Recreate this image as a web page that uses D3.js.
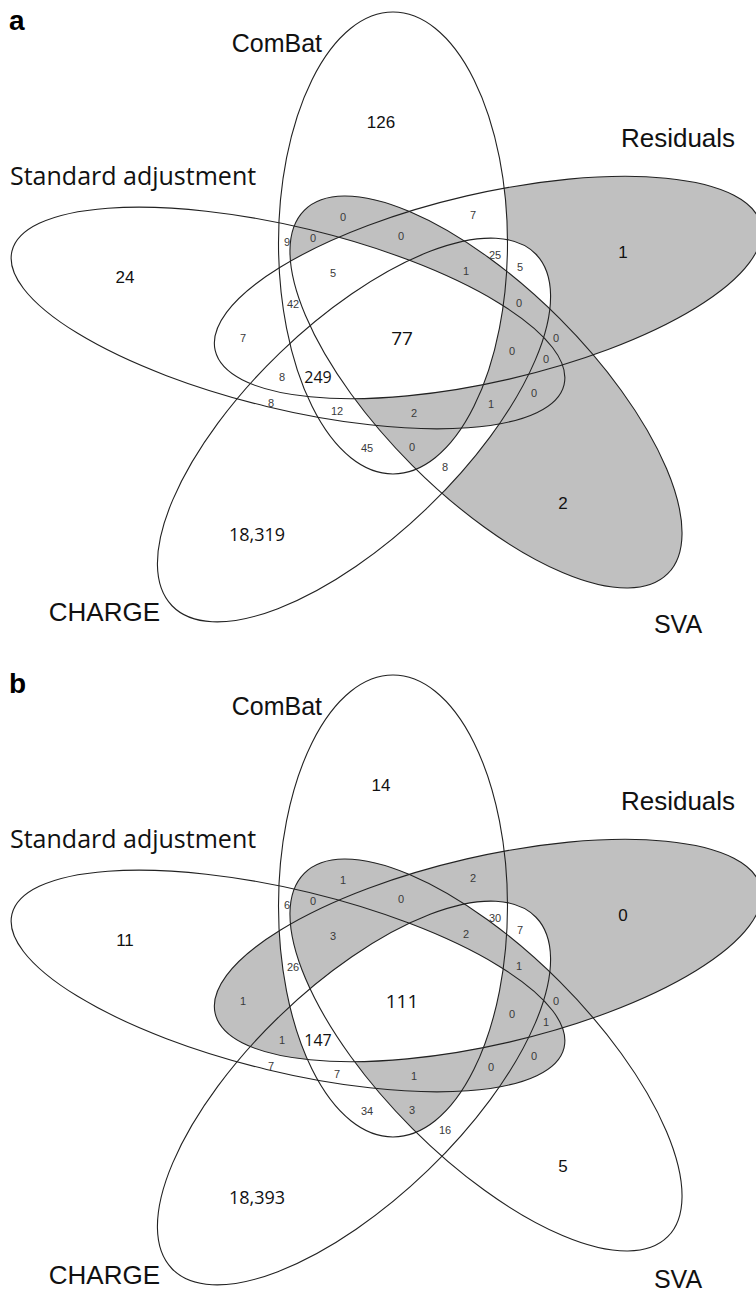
<!DOCTYPE html>
<html><head><meta charset="utf-8">
<script src="https://cdn.jsdelivr.net/npm/d3@7"></script>
<style>body{margin:0;background:#fff}</style>
</head><body>
<script>
// ---------------- DATA ----------------
const setKeys  = ["S", "C", "R", "V", "H"];
const setNames = ["Standard adjustment", "ComBat", "Residuals", "SVA", "CHARGE"];
const panelLetters = ["a", "b"];
// region = combination of sets (S=Standard adjustment, C=ComBat, R=Residuals, V=SVA, H=CHARGE)
const regionKeys = ["S","C","R","V","H","SCRVH","SCRH","SC","SCV","CV","CRV","CR","CRH","RH","SCRV",
                    "CRVH","SCR","SR","RVH","RV","SRVH","SRV","SV","SVH","SCVH","SRH","SH","SCH","CH","CVH","VH"];
const countsA = [24,126,1,2,18319,77,249,9,0,0,0,7,25,5,5,1,42,7,0,0,0,0,0,1,2,8,8,12,45,0,8];
const countsB = [11,14,0,5,18393,111,147,6,0,1,0,2,30,7,3,2,26,1,1,0,0,1,0,0,1,1,7,7,34,3,16];
const shadeBelow = 5;   // regions with fewer genes are shaded grey

// ---------------- LAYOUT ----------------
const W = 756, H = 1298, panelDY = 663;
const shapes = {
  S: {cx: 288, cy: 318,   a: 284, b: 91,    rot: 13.6},
  C: {cx: 393, cy: 243,   a: 231, b: 114.5, rot: 90},
  R: {cx: 488, cy: 287.5, a: 280, b: 94,    rot: -13},
  V: {cx: 486, cy: 392,   a: 257, b: 104,   rot: 45},
  H: {cx: 354, cy: 430,   a: 253, b: 107,   rot: -44}
};
const setLabelPos = {
  S: {x: 10,  y: 185, anchor: "start",  font: "'Open Sans', sans-serif", size: 25},
  C: {x: 322, y: 52,  anchor: "end",    font: "'Liberation Sans', Arial, sans-serif", size: 25},
  R: {x: 678, y: 147, anchor: "middle", font: "'Liberation Sans', Arial, sans-serif", size: 26},
  V: {x: 678, y: 633, anchor: "middle", font: "'Liberation Sans', Arial, sans-serif", size: 25},
  H: {x: 160, y: 621, anchor: "end",    font: "'Liberation Sans', Arial, sans-serif", size: 26}
};
const setLabelShiftB = {V: -8};   // panel b: SVA name sits a little higher
const regionLabelPos = {
  S:[125,277], C:[381,122], R:[623,252], V:[563,503], H:[257,535], SCRVH:[402,338], SCRH:[318,377],
  SC:[287,242], SCV:[313,238], CV:[343,217], CRV:[401,236], CR:[473,215], CRH:[495,255], RH:[520,267],
  SCRV:[333,273], CRVH:[466,271], SCR:[293,304], SR:[243,338], RVH:[519,303], RV:[556,338],
  SRVH:[512,351], SRV:[546,359], SV:[534,393], SVH:[491,404], SCVH:[414,413], SRH:[282,377],
  SH:[271,403], SCH:[337,411], CH:[367,448], CVH:[412,447], VH:[445,467]
};
function labelStyle(k) {
  if (k === "SCRVH") return {font: "'Open Sans', sans-serif", size: 19, fill: "#111"};
  if (k === "SCRH")  return {font: "'Open Sans', sans-serif", size: 16, fill: "#111"};
  if (k === "H")     return {font: "'Open Sans', sans-serif", size: 18, fill: "#111"};
  if (k.length === 1) return {font: "'Liberation Sans', Arial, sans-serif", size: 17, fill: "#111"};
  return {font: "'Liberation Sans', Arial, sans-serif", size: 11, fill: "#3a3a3a"};
}

// ---------------- DRAW ----------------
const shade = d3.scaleThreshold().domain([shadeBelow]).range(["#c0c0c0", "none"]);
const fmt = d3.format(",");

const svg = d3.select("body").append("svg")
  .attr("width", W).attr("height", H).style("display", "block");
svg.append("rect").attr("width", W).attr("height", H).attr("fill", "#fff");
const defs = svg.append("defs");

function ellipse(sel, k) {
  const s = shapes[k];
  return sel.attr("cx", s.cx).attr("cy", s.cy).attr("rx", s.a).attr("ry", s.b)
    .attr("transform", `rotate(${s.rot} ${s.cx} ${s.cy})`);
}

setKeys.forEach(k => {
  ellipse(defs.append("clipPath").attr("id", "cp-" + k).append("ellipse"), k);
});
regionKeys.forEach(rk => {
  const m = defs.append("mask").attr("id", "m-" + rk)
    .attr("maskUnits", "userSpaceOnUse")
    .attr("x", -20).attr("y", -20).attr("width", W + 40).attr("height", 720);
  let g = m;
  rk.split("").forEach(k => { g = g.append("g").attr("clip-path", `url(#cp-${k})`); });
  g.append("rect").attr("x", -20).attr("y", -20).attr("width", W + 40).attr("height", 720).attr("fill", "#fff");
  setKeys.filter(k => !rk.includes(k)).forEach(k => {
    ellipse(m.append("ellipse"), k).attr("fill", "#000");
  });
});

[countsA, countsB].forEach((counts, pi) => {
  const p = svg.append("g").attr("transform", `translate(0,${pi * panelDY})`);
  const regions = regionKeys.map((k, i) => ({key: k, count: counts[i]}));

  // shaded regions
  p.append("g").selectAll("rect").data(regions.filter(d => shade(d.count) !== "none")).join("rect")
    .attr("x", -20).attr("y", -20).attr("width", W + 40).attr("height", 720)
    .attr("fill", d => shade(d.count))
    .attr("mask", d => `url(#m-${d.key})`);

  // outlines
  p.append("g").selectAll("ellipse").data(setKeys).join("ellipse")
    .each(function(k) { ellipse(d3.select(this), k); })
    .attr("fill", "none").attr("stroke", "#222").attr("stroke-width", 1.1);

  // set names
  p.append("g").selectAll("text").data(setKeys).join("text")
    .attr("x", k => setLabelPos[k].x)
    .attr("y", k => setLabelPos[k].y + (pi === 1 ? (setLabelShiftB[k] || 0) : 0))
    .attr("text-anchor", k => setLabelPos[k].anchor)
    .attr("font-family", k => setLabelPos[k].font)
    .attr("font-size", k => setLabelPos[k].size)
    .attr("fill", "#111")
    .text(k => setNames[setKeys.indexOf(k)]);

  // region counts
  p.append("g").selectAll("text").data(regions).join("text")
    .attr("x", d => regionLabelPos[d.key][0]).attr("y", d => regionLabelPos[d.key][1])
    .attr("dy", "0.36em")
    .attr("text-anchor", "middle")
    .attr("font-family", d => labelStyle(d.key).font)
    .attr("font-size", d => labelStyle(d.key).size)
    .attr("fill", d => labelStyle(d.key).fill)
    .text(d => fmt(d.count));

  // panel letter
  p.append("text").attr("x", 9).attr("y", 30)
    .attr("font-family", "'Liberation Sans', Arial, sans-serif")
    .attr("font-weight", "bold").attr("font-size", 28).attr("fill", "#000")
    .text(panelLetters[pi]);
});
</script>
</body></html>
